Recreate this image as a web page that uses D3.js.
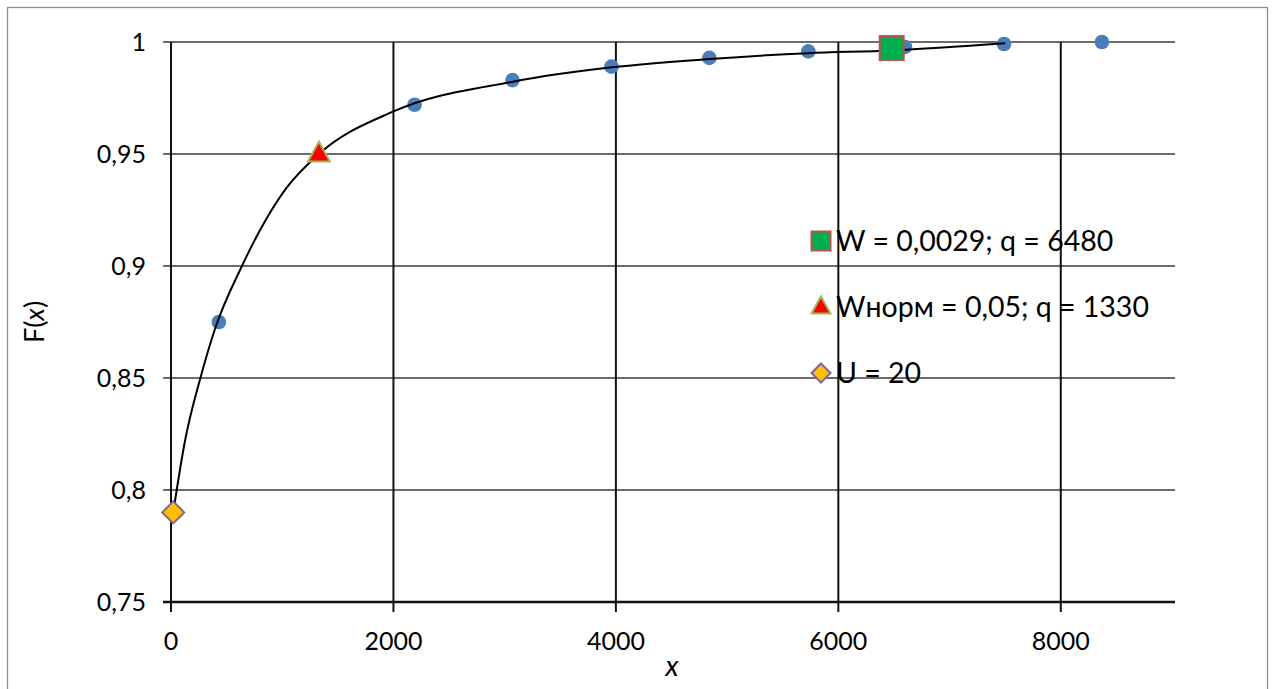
<!DOCTYPE html>
<html><head><meta charset="utf-8">
<script src="https://cdn.jsdelivr.net/npm/d3@7"></script>
<style>body{margin:0;background:#fff}svg{display:block}</style>
</head><body>
<svg id="c" width="1275" height="689"></svg>
<script>
// Data
const empX = [430, 2190, 3070, 3960, 4840, 5730, 6600, 7490, 8370];
const empF = [0.875, 0.972, 0.983, 0.989, 0.9929, 0.9958, 0.9978, 0.9991, 1.0];
const curveX = [20, 126, 270, 396, 638, 845, 1040, 1330, 2000, 3074, 3964, 4845, 5726, 6480, 7500];
const curveF = [0.79, 0.822, 0.851, 0.872, 0.9, 0.92, 0.935, 0.95, 0.969, 0.9823, 0.9887, 0.9924, 0.995, 0.9962, 0.9994];
const pointW = {x: 6480, F: 0.9973, label: "W = 0,0029; q = 6480"};
const pointWn = {x: 1330, F: 0.95, label: "Wнорм = 0,05; q = 1330"};
const pointU = {x: 20, F: 0.79, label: "U = 20"};
const xTicks = [0, 2000, 4000, 6000, 8000];
const yTicks = [0.75, 0.8, 0.85, 0.9, 0.95, 1];

const svg = d3.select("#c");
const font = "Lato, 'Open Sans', sans-serif";
svg.append("rect").attr("x",7.5).attr("y",7.5).attr("width",1260).attr("height",700)
  .attr("fill","#fff").attr("stroke","#8c8c8c").attr("stroke-width",1.3);

const x = d3.scaleLinear().domain([0, 9000]).range([171, 1172]);
const y = d3.scaleLinear().domain([0.75, 1]).range([602, 42]);

// horizontal grid
svg.append("g").selectAll("line").data(yTicks.filter(d=>d>0.75)).join("line")
  .attr("x1", x(0)-8).attr("x2", x(9000)+3).attr("y1", d=>y(d)).attr("y2", d=>y(d))
  .attr("stroke","#3a3a3a").attr("stroke-width",1.5);
// vertical grid
svg.append("g").selectAll("line").data(xTicks).join("line")
  .attr("x1", d=>x(d)).attr("x2", d=>x(d)).attr("y1", y(1)).attr("y2", y(0.75)+10)
  .attr("stroke","#111").attr("stroke-width",2);
// bottom axis line
svg.append("line").attr("x1", x(0)-8).attr("x2", x(9000)+3).attr("y1", y(0.75)).attr("y2", y(0.75))
  .attr("stroke","#111").attr("stroke-width",2.4);

// tick labels
svg.append("g").selectAll("text").data(yTicks).join("text")
  .attr("x", 146).attr("y", d=>y(d)).attr("dy","0.36em").attr("text-anchor","end")
  .attr("font-family", font).attr("font-size", 25).attr("fill","#000")
  .text(d=>d3.format("")(d).replace(".", ","));
svg.append("g").selectAll("text").data(xTicks).join("text")
  .attr("x", d=>x(d)).attr("y", 650).attr("text-anchor","middle")
  .attr("font-family", font).attr("font-size", 25).attr("fill","#000")
  .text(d=>d);

// axis titles
const yt = svg.append("text").attr("transform","translate(44,322) rotate(-90)")
  .attr("text-anchor","middle").attr("font-family", font).attr("font-size", 27);
yt.append("tspan").text("F(");
yt.append("tspan").attr("font-style","italic").text("x");
yt.append("tspan").text(")");
svg.append("text").attr("x", 672).attr("y", 676).attr("text-anchor","middle")
  .attr("font-family", font).attr("font-size", 28).attr("font-style","italic").text("x");

// empirical points
svg.append("g").selectAll("circle").data(empX).join("circle")
  .attr("cx", d=>x(d)).attr("cy", (d,i)=>y(empF[i])).attr("r", 7.3).attr("fill","#4a7ebb");

// curve
const line = d3.line().x(d=>x(d[0])).y(d=>y(d[1])).curve(d3.curveMonotoneX);
svg.append("path").datum(curveX.map((d,i)=>[d, curveF[i]])).attr("d", line)
  .attr("fill","none").attr("stroke","#000").attr("stroke-width",2);

// markers
function square(g, cx, cy, s){ g.append("rect").attr("x",cx-s/2).attr("y",cy-s/2).attr("width",s).attr("height",s)
  .attr("fill","#00b050").attr("stroke","#c0504d").attr("stroke-width",2); }
function tri(g, cx, cy, s){ const h=s*0.9; g.append("path")
  .attr("d",`M${cx},${cy-h*0.62}L${cx+s/2},${cy+h*0.38}L${cx-s/2},${cy+h*0.38}Z`)
  .attr("fill","#ff0000").attr("stroke","#9bbb59").attr("stroke-width",2); }
function dia(g, cx, cy, s){ g.append("path")
  .attr("d",`M${cx},${cy-s/2}L${cx+s/2},${cy}L${cx},${cy+s/2}L${cx-s/2},${cy}Z`)
  .attr("fill","#ffc000").attr("stroke","#8064a2").attr("stroke-width",2); }
const gm = svg.append("g");
square(gm, x(pointW.x), y(pointW.F), 24);
tri(gm, x(pointWn.x), y(pointWn.F), 22);
dia(gm, x(pointU.x), y(pointU.F), 22);

// legend
const lg = svg.append("g");
const items = [[pointW, square, 241], [pointWn, tri, 307], [pointU, dia, 373]];
items.forEach(([p, fn, yy])=>{
  fn(lg, 821, yy, 19);
  lg.append("text").attr("x", 836).attr("y", yy).attr("dy","0.36em")
    .attr("font-family", font).attr("font-size", 28.5).attr("fill","#000").text(p.label);
});
</script>
</body></html>
